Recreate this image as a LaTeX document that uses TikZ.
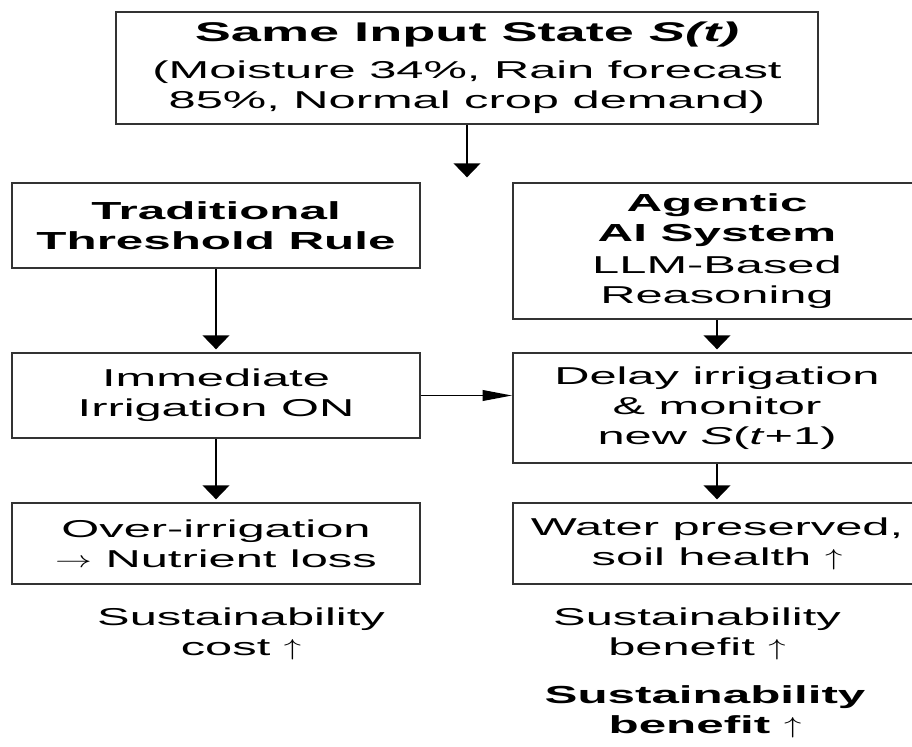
\documentclass[tikz,border=0pt]{standalone}
\usepackage{graphicx}
\usepackage{fontspec}
\setmainfont{Liberation Sans}[FakeStretch=2.0]
\usetikzlibrary{arrows.meta}

\newcommand{\headfont}{\fontsize{18.5}{23}\selectfont\bfseries}
\newcommand{\bodyfont}{\fontsize{18.3}{22.5}\selectfont\mdseries}
% thin arrows set in math, widened to suit the stretched text
\newcommand{\rarr}{\scalebox{1.6}[1]{$\rightarrow$}}
\newcommand{\uarr}{\scalebox{1.5}[1]{$\uparrow$}}

\begin{document}
\begin{tikzpicture}[x=0.75pt,y=-0.75pt,
  box/.style={draw=black!80, line width=1.5pt, rectangle, align=center,
              inner sep=0pt, font=\bodyfont},
  note/.style={align=center, inner sep=0pt, font=\fontsize{18.3}{22}\selectfont},
  flow/.style={draw=black, line width=1.4pt, shorten >=2pt,
               -{Triangle[length=10.5pt,width=20pt]}},
  sideflow/.style={draw=black, line width=1.2pt,
               -{Triangle[length=22pt,width=8pt]}}
]
\useasboundingbox (0,0) rectangle (912,746);
\clip (0,0) rectangle (912,746);

% shared input state
\node[box, minimum width=526.5pt, minimum height=84pt] (state) at (467,68)
  {\fontsize{20.3}{24}\selectfont\bfseries Same Input State \textit{S(t)}\\[5pt]
   \bodyfont (Moisture 34\%, Rain forecast\\
   \bodyfont 85\%, Normal crop demand)};
\coordinate (split) at (467,180);

% left branch: fixed threshold
\node[box, minimum width=306pt, minimum height=63.75pt] (trad) at (216,225.5)
  {\headfont Traditional\\\headfont Threshold Rule};
\node[box, minimum width=306pt, minimum height=63.75pt] (imm) at (216,395.5)
  {Immediate\\Irrigation ON};
\node[box, minimum width=306pt, minimum height=60.75pt] (over) at (216,543.5)
  {Over-irrigation\\\rarr\ Nutrient loss};

% right branch: agentic reasoning
\node[box, minimum width=306pt, minimum height=102pt] (agent) at (717,251)
  {\headfont Agentic\\\headfont AI System\\[1pt]
   \bodyfont LLM-Based\\\bodyfont Reasoning};
\node[box, minimum width=306pt, minimum height=82.5pt] (delay) at (717,408)
  {Delay irrigation\\\& monitor\\new \textit{S}(\textit{t}+1)};
\node[box, minimum width=306pt, minimum height=60.75pt] (water) at (717,543.5)
  {Water preserved,\\soil health \uarr};

% outcome notes
\node[note] (costnote) at (241,634) {Sustainability\\cost \uarr};
\node[note] (gainnote) at (697,634) {Sustainability\\benefit \uarr};
\node[note, font=\fontsize{18.5}{22.5}\selectfont\bfseries] (gainbold) at (705,712)
  {Sustainability\\benefit \uarr};

% connectors
\draw[flow] (state.south) -- (split);
\draw[flow] (trad.south) -- (imm.north);
\draw[flow] (imm.south) -- (over.north);
\draw[flow] (agent.south) -- (delay.north);
\draw[flow] (delay.south) -- (water.north);
\draw[sideflow] (imm.east) -- (imm.east -| delay.west);
\end{tikzpicture}
\end{document}
